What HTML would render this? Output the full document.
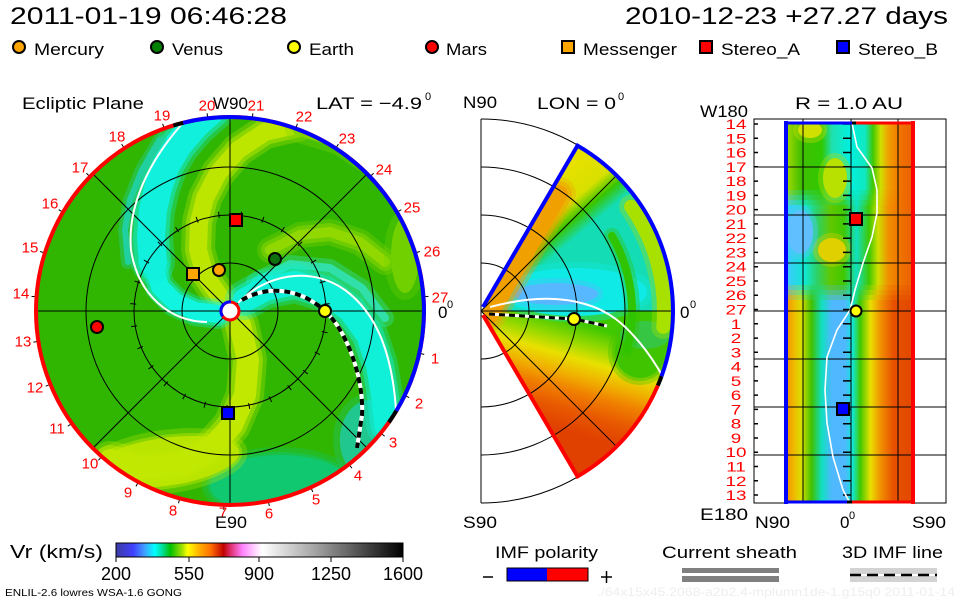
<!DOCTYPE html>
<html><head><meta charset="utf-8"><style>
html,body{margin:0;padding:0;background:#fff;}
svg{display:block;}
text{font-family:"Liberation Sans",sans-serif;}
</style></head><body>
<svg width="960" height="600" viewBox="0 0 960 600" xmlns="http://www.w3.org/2000/svg">
<defs>
<clipPath id="cd"><circle cx="230" cy="311" r="193"/></clipPath>
<clipPath id="cw"><path d="M482,311 L577.5,145.6 A191,191 0 0 1 577.5,476.4 Z"/></clipPath>
<clipPath id="cr"><rect x="786" y="122" width="128" height="381"/></clipPath>
<linearGradient id="cb" x1="0" x2="1" y1="0" y2="0">
<stop offset="0" stop-color="#3c3ca0"/><stop offset="0.06" stop-color="#4040ff"/><stop offset="0.1" stop-color="#40a0ff"/>
<stop offset="0.135" stop-color="#00ffff"/><stop offset="0.16" stop-color="#00e0a0"/><stop offset="0.19" stop-color="#00c000"/>
<stop offset="0.23" stop-color="#a0e000"/><stop offset="0.25" stop-color="#ffff00"/><stop offset="0.29" stop-color="#ffb000"/>
<stop offset="0.33" stop-color="#ff7000"/><stop offset="0.375" stop-color="#c00000"/><stop offset="0.4" stop-color="#e03070"/>
<stop offset="0.44" stop-color="#ff80ff"/><stop offset="0.49" stop-color="#ffe0ff"/><stop offset="0.51" stop-color="#ffffff"/>
<stop offset="0.7" stop-color="#a0a0a0"/><stop offset="1" stop-color="#000000"/>
</linearGradient>
<linearGradient id="rt" gradientUnits="userSpaceOnUse" x1="786" x2="914" y1="0" y2="0">
<stop offset="0" stop-color="#a8d800"/><stop offset="0.12" stop-color="#40c000"/><stop offset="0.28" stop-color="#30c800"/>
<stop offset="0.36" stop-color="#20e0b0"/><stop offset="0.5" stop-color="#00f0e0"/><stop offset="0.62" stop-color="#10e8c0"/>
<stop offset="0.68" stop-color="#40c800"/><stop offset="0.74" stop-color="#d0e000"/><stop offset="0.8" stop-color="#f0a000"/>
<stop offset="0.9" stop-color="#f07000"/><stop offset="1" stop-color="#e86000"/>
</linearGradient>
<linearGradient id="rm" gradientUnits="userSpaceOnUse" x1="786" x2="914" y1="0" y2="0">
<stop offset="0" stop-color="#40c8ff"/><stop offset="0.15" stop-color="#10e8d0"/><stop offset="0.25" stop-color="#30d060"/>
<stop offset="0.35" stop-color="#60c800"/><stop offset="0.45" stop-color="#40c800"/><stop offset="0.55" stop-color="#10e0c0"/>
<stop offset="0.65" stop-color="#40c800"/><stop offset="0.72" stop-color="#d0e000"/><stop offset="0.8" stop-color="#f09000"/>
<stop offset="0.9" stop-color="#f07000"/><stop offset="1" stop-color="#e86000"/>
</linearGradient>
<linearGradient id="rb" gradientUnits="userSpaceOnUse" x1="786" x2="914" y1="0" y2="0">
<stop offset="0" stop-color="#f09000"/><stop offset="0.06" stop-color="#f0b800"/><stop offset="0.12" stop-color="#d8e000"/>
<stop offset="0.2" stop-color="#40c000"/><stop offset="0.28" stop-color="#10e0c0"/><stop offset="0.36" stop-color="#50b8ff"/>
<stop offset="0.46" stop-color="#50b8ff"/><stop offset="0.52" stop-color="#10e8d8"/><stop offset="0.58" stop-color="#40c800"/>
<stop offset="0.66" stop-color="#e8e000"/><stop offset="0.74" stop-color="#f09000"/><stop offset="0.84" stop-color="#e85000"/>
<stop offset="1" stop-color="#e04800"/>
</linearGradient>
<linearGradient id="mg" gradientUnits="userSpaceOnUse" x1="540" y1="312" x2="510" y2="415">
<stop offset="0" stop-color="#40c800"/><stop offset="0.16" stop-color="#90d800"/><stop offset="0.32" stop-color="#e8e000"/>
<stop offset="0.48" stop-color="#f0b000"/><stop offset="0.62" stop-color="#f08000"/><stop offset="0.8" stop-color="#e85800"/>
<stop offset="1" stop-color="#e04000"/>
</linearGradient>
<linearGradient id="ug" gradientUnits="userSpaceOnUse" x1="568.7" y1="243.3" x2="530.1" y2="197.3">
<stop offset="0" stop-color="#14dcb4"/><stop offset="0.25" stop-color="#38c400"/><stop offset="0.5" stop-color="#d8e000"/>
<stop offset="1" stop-color="#e8e000"/>
</linearGradient>
</defs>

<!-- Header -->
<text x="10" y="24" font-size="24" textLength="277" lengthAdjust="spacingAndGlyphs">2011-01-19 06:46:28</text>
<text x="625" y="24" font-size="24" textLength="323" lengthAdjust="spacingAndGlyphs">2010-12-23 +27.27 days</text>

<!-- Legend -->
<g stroke="#000" stroke-width="2">
<circle cx="19" cy="47" r="6" fill="#ffa500"/>
<circle cx="157" cy="47" r="6" fill="#008000"/>
<circle cx="294" cy="47" r="6" fill="#ffff00"/>
<circle cx="432" cy="47" r="6" fill="#ff0000"/>
<rect x="562" y="41" width="12" height="12" fill="#ffa500"/>
<rect x="700" y="41" width="12" height="12" fill="#ff0000"/>
<rect x="837" y="41" width="12" height="12" fill="#0000ff"/>
</g>
<g font-size="17">
<text x="34" y="55" textLength="70" lengthAdjust="spacingAndGlyphs">Mercury</text>
<text x="172" y="55" textLength="51" lengthAdjust="spacingAndGlyphs">Venus</text>
<text x="309" y="55" textLength="45" lengthAdjust="spacingAndGlyphs">Earth</text>
<text x="446" y="55" textLength="41" lengthAdjust="spacingAndGlyphs">Mars</text>
<text x="583" y="55" textLength="94" lengthAdjust="spacingAndGlyphs">Messenger</text>
<text x="721" y="55" textLength="79" lengthAdjust="spacingAndGlyphs">Stereo_A</text>
<text x="858" y="55" textLength="80" lengthAdjust="spacingAndGlyphs">Stereo_B</text>
</g>

<!-- Panel titles -->
<g font-size="17">
<text x="22" y="109" textLength="122" lengthAdjust="spacingAndGlyphs">Ecliptic Plane</text>
<text x="213" y="109" textLength="35" lengthAdjust="spacingAndGlyphs">W90</text>
<text x="316" y="109" textLength="106" lengthAdjust="spacingAndGlyphs">LAT = −4.9</text>
<text x="463" y="108" textLength="34" lengthAdjust="spacingAndGlyphs">N90</text>
<text x="537" y="109" textLength="79" lengthAdjust="spacingAndGlyphs">LON = 0</text>
<text x="795" y="109" textLength="108" lengthAdjust="spacingAndGlyphs">R = 1.0 AU</text>
<text x="700" y="117" textLength="48" lengthAdjust="spacingAndGlyphs">W180</text>
</g>
<g font-size="11">
<text x="425" y="100">0</text>
<text x="618" y="100">0</text>
</g>

<!-- ===== LEFT: ecliptic plane ===== -->
<g clip-path="url(#cd)">
<rect x="20" y="100" width="420" height="420" fill="#30b600"/>
<g stroke-linecap="round" stroke-linejoin="round">
<ellipse cx="280" cy="485" rx="70" ry="30" fill="#10c870" stroke="#10c870" stroke-width="16" opacity=".3"/>
<ellipse cx="280" cy="485" rx="70" ry="30" fill="#10c870" stroke="#10c870" stroke-width="6" opacity=".5"/>
<ellipse cx="280" cy="485" rx="70" ry="30" fill="#10c870"/>
<ellipse cx="370" cy="440" rx="30" ry="40" fill="#20c890" stroke="#20c890" stroke-width="14" opacity=".3"/>
<ellipse cx="370" cy="440" rx="30" ry="40" fill="#20c890"/>
<ellipse cx="165" cy="462" rx="75" ry="24" fill="#b8e400" stroke="#b8e400" stroke-width="16" opacity=".3" transform="rotate(-8 165 462)"/>
<ellipse cx="165" cy="462" rx="75" ry="24" fill="#b8e400" stroke="#b8e400" stroke-width="6" opacity=".5" transform="rotate(-8 165 462)"/>
<ellipse cx="165" cy="462" rx="75" ry="24" fill="#b8e400" transform="rotate(-8 165 462)"/>
<g fill="none">
<path d="M240,325 L248,360 L245,395 L232,425 L210,450 L180,465 L140,468 L110,460" stroke="#c0e800" stroke-width="38" opacity=".3"/>
<path d="M240,325 L248,360 L245,395 L232,425 L210,450 L180,465 L140,468 L110,460" stroke="#c0e800" stroke-width="30" opacity=".5"/>
<path d="M240,325 L248,360 L245,395 L232,425 L210,450 L180,465 L140,468 L110,460" stroke="#c0e800" stroke-width="22"/>
<path d="M222,300 L205,275 L198,250 L199,222 L205,198 L218,173 L238,150 L265,132 L300,124" stroke="#bce600" stroke-width="34" opacity=".3"/>
<path d="M222,300 L205,275 L198,250 L199,222 L205,198 L218,173 L238,150 L265,132 L300,124" stroke="#bce600" stroke-width="26" opacity=".5"/>
<path d="M222,300 L205,275 L198,250 L199,222 L205,198 L218,173 L238,150 L265,132 L300,124" stroke="#bce600" stroke-width="18"/>
<path d="M300,128 L340,140 L370,160" stroke="#80d400" stroke-width="30" opacity=".3"/>
<path d="M300,128 L340,140 L370,160" stroke="#80d400" stroke-width="16"/>
<path d="M270,250 L300,235 L330,232 L360,242 L385,262" stroke="#90d800" stroke-width="26" opacity=".3"/>
<path d="M270,250 L300,235 L330,232 L360,242 L385,262" stroke="#90d800" stroke-width="18" opacity=".5"/>
<path d="M270,250 L300,235 L330,232 L360,242 L385,262" stroke="#90d800" stroke-width="10"/>
</g>
<ellipse cx="405" cy="255" rx="14" ry="38" fill="#70d000" stroke="#70d000" stroke-width="14" opacity=".3"/>
<ellipse cx="405" cy="255" rx="14" ry="38" fill="#70d000"/>
<g fill="none">
<path d="M255,282 L290,264 L330,268 L362,288 L385,318" stroke="#30e0a8" stroke-width="18" opacity=".4"/>
<path d="M255,282 L290,264 L330,268 L362,288 L385,318" stroke="#30e0a8" stroke-width="8"/>
<path d="M245,300 L265,289 L295,283 L325,292 L350,310 L368,335 L378,365 L383,395 L386,425" stroke="#10f0d8" stroke-width="40" opacity=".3"/>
<path d="M245,300 L265,289 L295,283 L325,292 L350,310 L368,335 L378,365 L383,395 L386,425" stroke="#10f0d8" stroke-width="32" opacity=".5"/>
<path d="M245,300 L265,289 L295,283 L325,292 L350,310 L368,335 L378,365 L383,395 L386,425" stroke="#10f0d8" stroke-width="24"/>
<path d="M218,314 L195,311 L175,302 L160,287 L153,262" stroke="#10f4e0" stroke-width="30" opacity=".3"/>
<path d="M218,314 L195,311 L175,302 L160,287 L153,262" stroke="#10f4e0" stroke-width="24" opacity=".5"/>
<path d="M218,314 L195,311 L175,302 L160,287 L153,262" stroke="#10f4e0" stroke-width="18"/>
<path d="M153,262 L151,237 L153,210 L158,188 L166,165 L178,145 L195,125 L212,110" stroke="#10f0dc" stroke-width="44" opacity=".3"/>
<path d="M153,262 L151,237 L153,210 L158,188 L166,165 L178,145 L195,125 L212,110" stroke="#10f0dc" stroke-width="36" opacity=".5"/>
<path d="M153,262 L151,237 L153,210 L158,188 L166,165 L178,145 L195,125 L212,110" stroke="#10f0dc" stroke-width="28"/>
<path d="M128,262 L125,230 L130,200 L142,170 L160,140" stroke="#20d0a0" stroke-width="14" opacity=".4"/>
<path d="M128,262 L125,230 L130,200 L142,170 L160,140" stroke="#20d0a0" stroke-width="6"/>
</g>
</g>
</g>
<g stroke="#000" stroke-width="1" fill="none">
<circle cx="230" cy="311" r="48"/>
<circle cx="230" cy="311" r="96"/>
<circle cx="230" cy="311" r="144"/>
<line x1="37" y1="311" x2="423" y2="311"/>
<line x1="230" y1="118" x2="230" y2="504"/>
<line x1="93.5" y1="174.5" x2="366.5" y2="447.5"/>
<line x1="93.5" y1="447.5" x2="366.5" y2="174.5"/>
</g>
<g stroke="#000" stroke-width="1">
<g transform="rotate(12.6 230 311)"><line x1="324" y1="311" x2="330" y2="311"/><line x1="423" y1="311" x2="429" y2="311"/></g>
<g transform="rotate(25.8 230 311)"><line x1="324" y1="311" x2="330" y2="311"/><line x1="423" y1="311" x2="429" y2="311"/></g>
<g transform="rotate(39 230 311)"><line x1="324" y1="311" x2="330" y2="311"/><line x1="423" y1="311" x2="429" y2="311"/></g>
<g transform="rotate(52.2 230 311)"><line x1="324" y1="311" x2="330" y2="311"/><line x1="423" y1="311" x2="429" y2="311"/></g>
<g transform="rotate(65.4 230 311)"><line x1="324" y1="311" x2="330" y2="311"/><line x1="423" y1="311" x2="429" y2="311"/></g>
<g transform="rotate(78.6 230 311)"><line x1="324" y1="311" x2="330" y2="311"/><line x1="423" y1="311" x2="429" y2="311"/></g>
<g transform="rotate(91.8 230 311)"><line x1="324" y1="311" x2="330" y2="311"/><line x1="423" y1="311" x2="429" y2="311"/></g>
<g transform="rotate(105 230 311)"><line x1="324" y1="311" x2="330" y2="311"/><line x1="423" y1="311" x2="429" y2="311"/></g>
<g transform="rotate(118.2 230 311)"><line x1="324" y1="311" x2="330" y2="311"/><line x1="423" y1="311" x2="429" y2="311"/></g>
<g transform="rotate(131.4 230 311)"><line x1="324" y1="311" x2="330" y2="311"/><line x1="423" y1="311" x2="429" y2="311"/></g>
<g transform="rotate(144.6 230 311)"><line x1="324" y1="311" x2="330" y2="311"/><line x1="423" y1="311" x2="429" y2="311"/></g>
<g transform="rotate(157.8 230 311)"><line x1="324" y1="311" x2="330" y2="311"/><line x1="423" y1="311" x2="429" y2="311"/></g>
<g transform="rotate(171 230 311)"><line x1="324" y1="311" x2="330" y2="311"/><line x1="423" y1="311" x2="429" y2="311"/></g>
<g transform="rotate(184.2 230 311)"><line x1="324" y1="311" x2="330" y2="311"/><line x1="423" y1="311" x2="429" y2="311"/></g>
<g transform="rotate(197.4 230 311)"><line x1="324" y1="311" x2="330" y2="311"/><line x1="423" y1="311" x2="429" y2="311"/></g>
<g transform="rotate(210.6 230 311)"><line x1="324" y1="311" x2="330" y2="311"/><line x1="423" y1="311" x2="429" y2="311"/></g>
<g transform="rotate(223.8 230 311)"><line x1="324" y1="311" x2="330" y2="311"/><line x1="423" y1="311" x2="429" y2="311"/></g>
<g transform="rotate(237 230 311)"><line x1="324" y1="311" x2="330" y2="311"/><line x1="423" y1="311" x2="429" y2="311"/></g>
<g transform="rotate(250.2 230 311)"><line x1="324" y1="311" x2="330" y2="311"/><line x1="423" y1="311" x2="429" y2="311"/></g>
<g transform="rotate(263.4 230 311)"><line x1="324" y1="311" x2="330" y2="311"/><line x1="423" y1="311" x2="429" y2="311"/></g>
<g transform="rotate(276.6 230 311)"><line x1="324" y1="311" x2="330" y2="311"/><line x1="423" y1="311" x2="429" y2="311"/></g>
<g transform="rotate(289.8 230 311)"><line x1="324" y1="311" x2="330" y2="311"/><line x1="423" y1="311" x2="429" y2="311"/></g>
<g transform="rotate(303 230 311)"><line x1="324" y1="311" x2="330" y2="311"/><line x1="423" y1="311" x2="429" y2="311"/></g>
<g transform="rotate(316.2 230 311)"><line x1="324" y1="311" x2="330" y2="311"/><line x1="423" y1="311" x2="429" y2="311"/></g>
<g transform="rotate(329.4 230 311)"><line x1="324" y1="311" x2="330" y2="311"/><line x1="423" y1="311" x2="429" y2="311"/></g>
<g transform="rotate(342.6 230 311)"><line x1="324" y1="311" x2="330" y2="311"/><line x1="423" y1="311" x2="429" y2="311"/></g>
<g transform="rotate(355.8 230 311)"><line x1="324" y1="311" x2="330" y2="311"/><line x1="423" y1="311" x2="429" y2="311"/></g>
</g>
<g stroke="#fff" stroke-width="2" fill="none">
<path d="M207,322 C170,322 138,295 131,250 C127,205 150,160 182,124"/>
<path d="M238,303 C265,275 310,265 345,290 C375,312 392,350 396,410"/>
</g>
<path d="M242,300 C262,288 295,284 325,311 C348,332 364,380 362,415 L357,448" stroke="#fff" stroke-width="4" fill="none"/>
<path d="M242,300 C262,288 295,284 325,311 C348,332 364,380 362,415 L357,448" stroke="#000" stroke-width="4" fill="none" stroke-dasharray="6 5"/>
<circle cx="230" cy="311" r="194" fill="none" stroke="#ff0000" stroke-width="4"/>
<path d="M183.1,122.8 A194,194 0 0 1 396.3,410.9" fill="none" stroke="#0000ff" stroke-width="4"/>
<path d="M173.3,125.5 A194,194 0 0 1 183.1,122.8" fill="none" stroke="#000" stroke-width="4"/>
<path d="M396.3,410.9 A194,194 0 0 1 388.9,422.3" fill="none" stroke="#000" stroke-width="4"/>
<circle cx="230" cy="311" r="9" fill="#fff" stroke="#ff0000" stroke-width="3"/>
<path d="M231,302 A9,9 0 0 0 222.6,316.2" fill="none" stroke="#0000ff" stroke-width="3"/>
<g stroke="#000" stroke-width="2">
<rect x="230" y="214" width="12" height="12" fill="#ff0000"/>
<rect x="187" y="268" width="12" height="12" fill="#ffa500"/>
<rect x="222" y="407" width="12" height="12" fill="#0000ff"/>
<circle cx="219" cy="270" r="6" fill="#ffa500"/>
<circle cx="275" cy="259" r="6" fill="#107010"/>
<circle cx="325" cy="311" r="6" fill="#ffff00"/>
<circle cx="97" cy="327" r="6" fill="#ff0000"/>
</g>
<g font-size="15" fill="#ff0000" text-anchor="middle">
<text x="162" y="120.5">19</text><text x="207" y="110.5">20</text><text x="256" y="110.5">21</text>
<text x="304" y="121.5">22</text><text x="347" y="143.5">23</text><text x="384" y="174.5">24</text>
<text x="412" y="212.5">25</text><text x="432" y="256.5">26</text><text x="440" y="302.5">27</text>
<text x="435" y="363.5">1</text><text x="419" y="408.5">2</text><text x="393" y="447.5">3</text>
<text x="358" y="480.5">4</text><text x="316" y="504.5">5</text><text x="269" y="518.5">6</text>
<text x="223" y="517.5">7</text><text x="173" y="515.5">8</text><text x="128" y="497.5">9</text>
<text x="90" y="468.5">10</text><text x="57" y="433.5">11</text><text x="35" y="392.5">12</text>
<text x="23" y="346.5">13</text><text x="21" y="298.5">14</text><text x="30" y="252.5">15</text>
<text x="50" y="208.5">16</text><text x="80" y="172.5">17</text><text x="117" y="141.5">18</text>
</g>
<text x="438" y="318" font-size="17">0</text><text x="447" y="308" font-size="11">0</text>
<text x="215" y="528" font-size="17" textLength="32" lengthAdjust="spacingAndGlyphs">E90</text>

<!-- ===== MIDDLE ===== -->
<g clip-path="url(#cw)">
<rect x="460" y="100" width="240" height="212" fill="url(#ug)"/>
<rect x="460" y="311" width="240" height="210" fill="url(#mg)"/>
<g stroke-linecap="round" stroke-linejoin="round">
<ellipse cx="640" cy="352" rx="25" ry="26" fill="#40c400" stroke="#40c400" stroke-width="14" opacity=".35"/>
<ellipse cx="640" cy="352" rx="25" ry="26" fill="#40c400" stroke="#40c400" stroke-width="6" opacity=".5"/>
<ellipse cx="640" cy="352" rx="25" ry="26" fill="#40c400"/>
<ellipse cx="645" cy="335" rx="25" ry="14" fill="#30c870" opacity=".6"/>
<ellipse cx="575" cy="292" rx="72" ry="24" fill="#10eae6" stroke="#10eae6" stroke-width="12" opacity=".35"/>
<ellipse cx="575" cy="292" rx="72" ry="24" fill="#10eae6"/>
<ellipse cx="556" cy="294" rx="42" ry="11" fill="#58b8ff" stroke="#58b8ff" stroke-width="10" opacity=".35"/>
<ellipse cx="556" cy="294" rx="42" ry="11" fill="#58b8ff"/>
<g fill="none">
<path d="M489,315 L559,194" stroke="#f0a000" stroke-width="34" opacity=".3"/>
<path d="M489,315 L559,194" stroke="#f0a000" stroke-width="26" opacity=".5"/>
<path d="M489,315 L559,194" stroke="#f0a000" stroke-width="18"/>
<path d="M631.1,206.6 A182,182 0 0 1 663.3,326.9" stroke="#a8e000" stroke-width="24" opacity=".35"/>
<path d="M631.1,206.6 A182,182 0 0 1 663.3,326.9" stroke="#a8e000" stroke-width="14"/>
<path d="M611.9,236 A150,150 0 0 1 626.9,349.8" stroke="#30c400" stroke-width="16" opacity=".35"/>
<path d="M611.9,236 A150,150 0 0 1 626.9,349.8" stroke="#30c400" stroke-width="8"/>
</g>
</g>
</g>
<g stroke="#000" stroke-width="1" fill="none">
<line x1="481" y1="119" x2="481" y2="503"/>
<path d="M481,263 A48,48 0 0 1 481,359"/>
<path d="M481,215 A96,96 0 0 1 481,407"/>
<path d="M481,167 A144,144 0 0 1 481,455"/>
<path d="M481,119 A192,192 0 0 1 481,503"/>
<line x1="481" y1="311" x2="673" y2="311"/>
<line x1="481" y1="311" x2="616.8" y2="175.2"/>
<line x1="481" y1="311" x2="616.8" y2="446.8"/>
</g>
<path d="M490,307 C520,299 555,295 585,304 C610,311 625,325 640,343 C650,355 658,368 663,377" stroke="#fff" stroke-width="2" fill="none"/>
<path d="M489,314 L574,319 L607,326" stroke="#fff" stroke-width="3" fill="none"/>
<path d="M489,314 L574,319 L607,326" stroke="#000" stroke-width="3" fill="none" stroke-dasharray="6 4"/>
<path d="M483,307 L577.5,145.6 A191,191 0 0 1 661.5,376.3" fill="none" stroke="#0000ff" stroke-width="4"/>
<path d="M661.5,376.3 A191,191 0 0 1 657.8,385.6" fill="none" stroke="#000" stroke-width="4"/>
<path d="M657.8,385.6 A191,191 0 0 1 577.5,476.4 L483,315" fill="none" stroke="#ff0000" stroke-width="4"/>
<circle cx="574" cy="319" r="6" fill="#ffff00" stroke="#000" stroke-width="2"/>
<text x="680" y="318" font-size="17">0</text><text x="690" y="308" font-size="11">0</text>
<text x="463" y="528" font-size="17" textLength="34" lengthAdjust="spacingAndGlyphs">S90</text>

<!-- ===== RIGHT ===== -->
<g clip-path="url(#cr)">
<rect x="770" y="100" width="160" height="105" fill="url(#rt)"/>
<rect x="770" y="190" width="160" height="5" fill="url(#rm)" opacity=".25"/>
<rect x="770" y="195" width="160" height="5" fill="url(#rm)" opacity=".5"/>
<rect x="770" y="200" width="160" height="5" fill="url(#rm)" opacity=".75"/>
<rect x="770" y="205" width="160" height="95" fill="url(#rm)"/>
<rect x="770" y="285" width="160" height="5" fill="url(#rb)" opacity=".25"/>
<rect x="770" y="290" width="160" height="5" fill="url(#rb)" opacity=".5"/>
<rect x="770" y="295" width="160" height="5" fill="url(#rb)" opacity=".75"/>
<rect x="770" y="300" width="160" height="220" fill="url(#rb)"/>
<ellipse cx="810" cy="130" rx="12" ry="8" fill="#d0e000" stroke="#d0e000" stroke-width="10" opacity=".35"/>
<ellipse cx="810" cy="130" rx="12" ry="8" fill="#d0e000"/>
<ellipse cx="835" cy="178" rx="12" ry="20" fill="#b8e000" stroke="#b8e000" stroke-width="10" opacity=".35"/>
<ellipse cx="835" cy="178" rx="12" ry="20" fill="#b8e000"/>
<ellipse cx="832" cy="250" rx="14" ry="12" fill="#e0d000" stroke="#e0d000" stroke-width="10" opacity=".35"/>
<ellipse cx="832" cy="250" rx="14" ry="12" fill="#e0d000"/>
<ellipse cx="800" cy="232" rx="13" ry="22" fill="#60c0ff" stroke="#60c0ff" stroke-width="10" opacity=".35"/>
<ellipse cx="800" cy="232" rx="13" ry="22" fill="#60c0ff"/>
</g>
<g stroke="#000" stroke-width="1" fill="none">
<rect x="754" y="119" width="192" height="384"/>
<line x1="803" y1="119" x2="803" y2="503"/>
<line x1="851" y1="119" x2="851" y2="503"/>
<line x1="898" y1="119" x2="898" y2="503"/>
<line x1="754" y1="167" x2="946" y2="167"/>
<line x1="754" y1="215" x2="946" y2="215"/>
<line x1="754" y1="263" x2="946" y2="263"/>
<line x1="754" y1="311" x2="946" y2="311"/>
<line x1="754" y1="359" x2="946" y2="359"/>
<line x1="754" y1="407" x2="946" y2="407"/>
<line x1="754" y1="455" x2="946" y2="455"/>
</g>
<g stroke="#000" stroke-width="1.5">
<path d="M754,124h4M754,138.3h4M754,152.5h4M754,166.8h4M754,181.1h4M754,195.4h4M754,209.6h4M754,223.9h4M754,238.2h4M754,252.4h4M754,266.7h4M754,281h4M754,295.2h4M754,309.5h4M754,323.8h4M754,338.1h4M754,352.3h4M754,366.6h4M754,380.9h4M754,395.1h4M754,409.4h4M754,423.7h4M754,438h4M754,452.2h4M754,466.5h4M754,480.8h4M754,495h4"/>
<path d="M843,124h8M843,138.3h8M843,152.5h8M843,166.8h8M843,181.1h8M843,195.4h8M843,209.6h8M843,223.9h8M843,238.2h8M843,252.4h8M843,266.7h8M843,281h8M843,295.2h8M843,309.5h8M843,323.8h8M843,338.1h8M843,352.3h8M843,366.6h8M843,380.9h8M843,395.1h8M843,409.4h8M843,423.7h8M843,438h8M843,452.2h8M843,466.5h8M843,480.8h8M843,495h8"/>
</g>
<polyline points="852,123 857,147 872,168 877,190 877,213 872,237 863,263 855,290 850,310 837,330 827,357 825,390 827,423 833,457 843,490 850,503" fill="none" stroke="#fff" stroke-width="1.6"/>
<line x1="786" y1="121" x2="786" y2="504" stroke="#0000ff" stroke-width="4"/>
<line x1="913" y1="121" x2="913" y2="504" stroke="#ff0000" stroke-width="4"/>
<line x1="784" y1="123" x2="852" y2="123" stroke="#0000ff" stroke-width="3"/>
<line x1="852" y1="123" x2="856" y2="123" stroke="#000" stroke-width="3"/>
<line x1="856" y1="123" x2="915" y2="123" stroke="#ff0000" stroke-width="3"/>
<line x1="784" y1="502" x2="847" y2="502" stroke="#0000ff" stroke-width="3"/>
<line x1="847" y1="502" x2="852" y2="502" stroke="#000" stroke-width="3"/>
<line x1="852" y1="502" x2="915" y2="502" stroke="#ff0000" stroke-width="3"/>
<g stroke="#000" stroke-width="2">
<rect x="850" y="213" width="12" height="12" fill="#ff0000"/>
<circle cx="856" cy="311" r="5.5" fill="#ffff00"/>
<rect x="837" y="403" width="12" height="12" fill="#0000ff"/>
</g>
<g font-size="14" fill="#ff0000" text-anchor="middle">
<text transform="translate(736 129) scale(1.35 1)">14</text>
<text transform="translate(736 143.3) scale(1.35 1)">15</text>
<text transform="translate(736 157.5) scale(1.35 1)">16</text>
<text transform="translate(736 171.8) scale(1.35 1)">17</text>
<text transform="translate(736 186.1) scale(1.35 1)">18</text>
<text transform="translate(736 200.4) scale(1.35 1)">19</text>
<text transform="translate(736 214.6) scale(1.35 1)">20</text>
<text transform="translate(736 228.9) scale(1.35 1)">21</text>
<text transform="translate(736 243.2) scale(1.35 1)">22</text>
<text transform="translate(736 257.4) scale(1.35 1)">23</text>
<text transform="translate(736 271.7) scale(1.35 1)">24</text>
<text transform="translate(736 286) scale(1.35 1)">25</text>
<text transform="translate(736 300.2) scale(1.35 1)">26</text>
<text transform="translate(736 314.5) scale(1.35 1)">27</text>
<text transform="translate(736 328.8) scale(1.35 1)">1</text>
<text transform="translate(736 343.1) scale(1.35 1)">2</text>
<text transform="translate(736 357.3) scale(1.35 1)">3</text>
<text transform="translate(736 371.6) scale(1.35 1)">4</text>
<text transform="translate(736 385.9) scale(1.35 1)">5</text>
<text transform="translate(736 400.1) scale(1.35 1)">6</text>
<text transform="translate(736 414.4) scale(1.35 1)">7</text>
<text transform="translate(736 428.7) scale(1.35 1)">8</text>
<text transform="translate(736 443) scale(1.35 1)">9</text>
<text transform="translate(736 457.2) scale(1.35 1)">10</text>
<text transform="translate(736 471.5) scale(1.35 1)">11</text>
<text transform="translate(736 485.8) scale(1.35 1)">12</text>
<text transform="translate(736 500) scale(1.35 1)">13</text>
</g>
<g font-size="17">
<text x="700" y="520" textLength="48" lengthAdjust="spacingAndGlyphs">E180</text>
<text x="755" y="528" textLength="35" lengthAdjust="spacingAndGlyphs">N90</text>
<text x="840" y="528">0</text>
<text x="912" y="528" textLength="34" lengthAdjust="spacingAndGlyphs">S90</text>
</g>
<text x="849" y="519" font-size="11">0</text>

<!-- ===== Bottom ===== -->
<text x="10" y="558" font-size="18" textLength="93" lengthAdjust="spacingAndGlyphs">Vr (km/s)</text>
<rect x="116" y="543" width="287" height="14" fill="url(#cb)" stroke="#000" stroke-width="1"/>
<g stroke="#000" stroke-width="1">
<line x1="116" y1="557" x2="116" y2="562"/><line x1="189" y1="557" x2="189" y2="562"/>
<line x1="259" y1="557" x2="259" y2="562"/><line x1="331" y1="557" x2="331" y2="562"/>
<line x1="403" y1="557" x2="403" y2="562"/>
</g>
<g font-size="18" text-anchor="middle">
<text x="116" y="580">200</text><text x="189" y="580">550</text><text x="259" y="580">900</text>
<text x="331" y="580">1250</text><text x="403" y="580">1600</text>
</g>
<text x="5" y="596" font-size="10" textLength="177" lengthAdjust="spacingAndGlyphs">ENLIL-2.6 lowres WSA-1.6 GONG</text>

<text x="495" y="558" font-size="17" textLength="103" lengthAdjust="spacingAndGlyphs">IMF polarity</text>
<line x1="483" y1="577" x2="493" y2="577" stroke="#000" stroke-width="1.5"/>
<rect x="507" y="568" width="40" height="13" fill="#0000ff"/>
<rect x="547" y="568" width="41" height="13" fill="#ff0000"/>
<rect x="507" y="568" width="81" height="13" fill="none" stroke="#000" stroke-width="1"/>
<line x1="601" y1="577" x2="612" y2="577" stroke="#000" stroke-width="1.5"/>
<line x1="606.5" y1="571" x2="606.5" y2="583" stroke="#000" stroke-width="1.5"/>

<text x="662" y="558" font-size="17" textLength="135" lengthAdjust="spacingAndGlyphs">Current sheath</text>
<rect x="682" y="568" width="97" height="5" fill="#808080"/>
<rect x="682" y="576" width="97" height="6" fill="#808080"/>

<text x="842" y="558" font-size="17" textLength="101" lengthAdjust="spacingAndGlyphs">3D IMF line</text>
<rect x="850" y="568" width="87" height="14" fill="#d3d3d3"/>
<line x1="850" y1="575" x2="937" y2="575" stroke="#fff" stroke-width="2"/>
<line x1="850" y1="575" x2="937" y2="575" stroke="#000" stroke-width="2.5" stroke-dasharray="11 6"/>

<text x="597" y="596" font-size="12" fill="#eeeeee" textLength="358" lengthAdjust="spacingAndGlyphs">./64x15x45.2068-a2b2.4-mplumn1de-1.g15q0   2011-01-14</text>
</svg>
</body></html>
